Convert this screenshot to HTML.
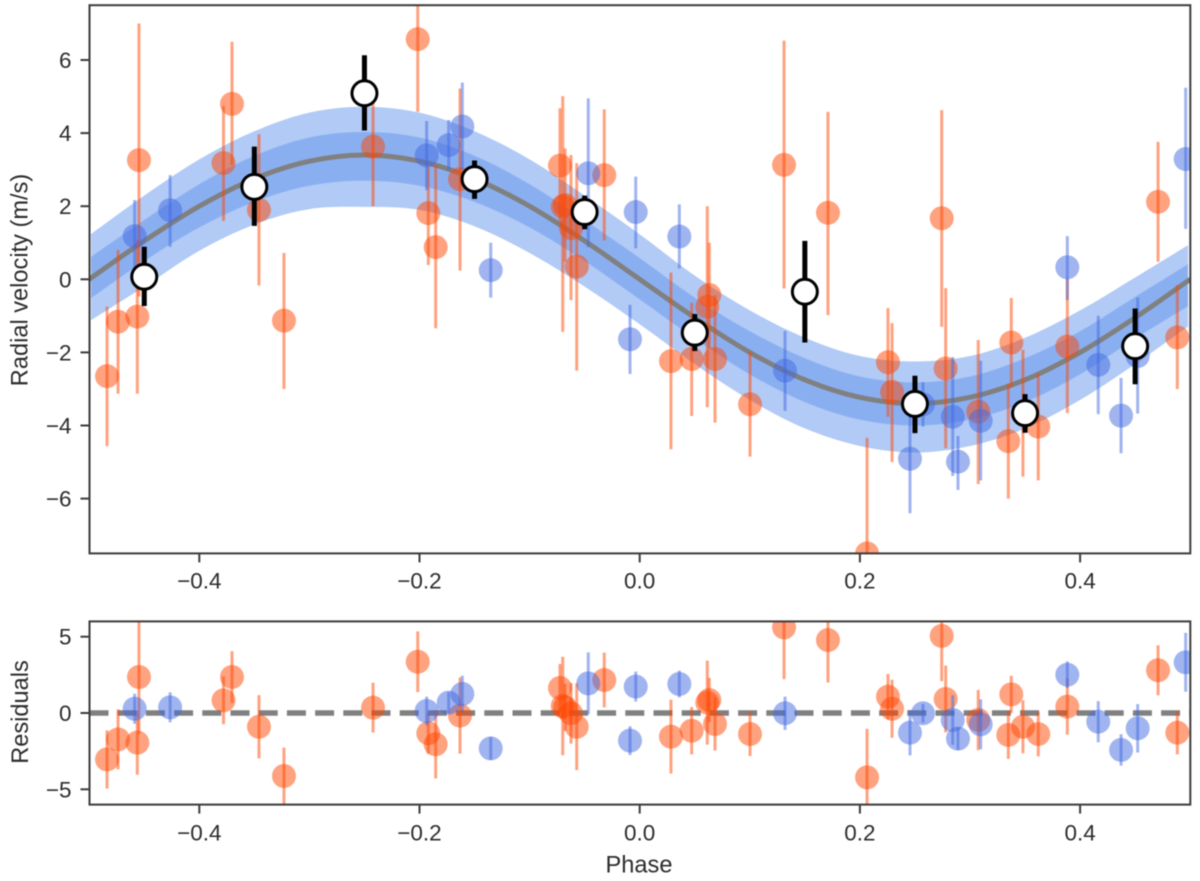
<!DOCTYPE html>
<html lang="en">
<head>
<meta charset="utf-8">
<title>Radial velocity phase plot</title>
<style>
html,body{margin:0;padding:0;background:#fff;width:1200px;height:881px;overflow:hidden}
svg{display:block;filter:blur(0.45px)}
text{font-family:"Liberation Sans",Arial,sans-serif;fill:#2c2c2c}
</style>
</head>
<body>
<svg id="fig" xmlns="http://www.w3.org/2000/svg" width="1200" height="881" viewBox="0 0 1200 881">
  <defs>
    <clipPath id="clip-main"><rect x="89.5" y="5.2" width="1100.8" height="548.2"/></clipPath>
    <clipPath id="clip-band"><rect x="91" y="5.2" width="1097" height="548.2"/></clipPath>
    <clipPath id="clip-res"><rect x="89.5" y="621.4" width="1100.8" height="183.2"/></clipPath>
  </defs>
  <g id="main-bands" clip-path="url(#clip-band)"></g>
  <g id="main-line" clip-path="url(#clip-main)"></g>
  <g id="main-points" clip-path="url(#clip-main)"></g>
  <g id="main-binned" clip-path="url(#clip-main)"></g>
  <line x1="89.5" x2="1190" y1="713" y2="713" stroke="#808080" stroke-width="5.5" stroke-dasharray="19 9.2"/>
  <g id="res-points" clip-path="url(#clip-res)"></g>
  <rect x="89.5" y="5.2" width="1100.8" height="548.2" fill="none" stroke="#3c3c3c" stroke-width="2"/>
  <rect x="89.5" y="621.4" width="1100.8" height="183.2" fill="none" stroke="#3c3c3c" stroke-width="2"/>
  <g id="ticks"></g>
  <text font-size="23.6" text-anchor="middle" transform="translate(27.5,280) rotate(-90)">Radial velocity (m/s)</text>
  <text font-size="23.6" text-anchor="middle" transform="translate(28,712) rotate(-90)">Residuals</text>
  <text font-size="23.6" text-anchor="middle" x="639" y="872.5">Phase</text>
</svg>
<script>
// Model curve
const modelPhase = [-0.5,-0.45,-0.4,-0.35,-0.3,-0.25,-0.2,-0.15,-0.1,-0.05,0,0.05,0.1,0.15,0.2,0.25,0.3,0.35,0.4,0.45,0.5];
const modelMean  = [0,1.05,2.0,2.75,3.23,3.4,3.23,2.75,2.0,1.05,0,-1.05,-2.0,-2.75,-3.23,-3.4,-3.23,-2.75,-2.0,-1.05,0];
const innerUpper = [0.58,1.62,2.6,3.38,3.88,4.03,3.88,3.38,2.6,1.62,0.58,-0.5,-1.42,-2.16,-2.66,-2.82,-2.66,-2.16,-1.42,-0.48,0.45];
const innerLower = [-0.55,0.5,1.42,2.12,2.56,2.7,2.56,2.12,1.42,0.5,-0.55,-1.62,-2.6,-3.36,-3.84,-4.0,-3.84,-3.36,-2.6,-1.62,-0.7];
const outerUpper = [1.2,2.29,3.28,4.05,4.56,4.72,4.56,4.05,3.28,2.29,1.23,0.1,-0.85,-1.6,-2.1,-2.25,-2.1,-1.6,-0.85,0.05,0.97];
const outerLower = [-1.15,-0.2,0.78,1.5,1.92,1.98,1.9,1.45,0.72,-0.2,-1.23,-2.32,-3.3,-4.08,-4.56,-4.74,-4.56,-4.08,-3.3,-2.32,-1.25];

// Orange data set
const orangePhase = [-0.4838,-0.4738,-0.4563,-0.4548,-0.378,-0.3703,-0.3458,-0.3231,-0.2422,-0.2016,-0.192,-0.1853,-0.1632,-0.0724,-0.0699,-0.0678,-0.0624,-0.0572,-0.0322,0.0284,0.0472,0.0614,0.0632,0.0684,0.1002,0.1311,0.171,0.2065,0.2255,0.2292,0.2743,0.2779,0.3075,0.3348,0.3375,0.3481,0.362,0.3884,0.4708,0.4883];
const orangeRv    = [-2.65,-1.16,-1.02,3.26,3.18,4.8,1.9,-1.13,3.63,6.57,1.81,0.88,2.74,3.11,1.99,2.03,1.4,0.35,2.85,-2.24,-2.18,-0.75,-0.43,-2.18,-3.42,3.13,1.82,-7.5,-2.27,-3.08,1.67,-2.44,-3.62,-4.43,-1.73,-3.67,-4.03,-1.84,2.12,-1.59];
const orangeLow   = [-4.56,-3.13,-3.13,-0.47,1.6,3.13,-0.17,-3.0,2.0,4.58,0.39,-1.34,0.24,1.54,-1.44,0.48,-0.57,-2.5,1.06,-4.65,-3.74,-3.5,-1.9,-3.92,-4.85,-0.25,-0.98,-10.7,-3.76,-5.0,-1.3,-4.62,-5.6,-6.0,-2.95,-5.4,-5.5,-3.66,0.48,-3.0];
const orangeHigh  = [-0.75,0.8,1.08,7.0,4.74,6.5,3.97,0.72,5.26,8.56,3.08,3.13,5.22,4.68,5.01,3.58,3.4,3.18,4.65,0.18,-0.64,2.0,1.0,-0.44,-1.98,6.53,4.58,-4.34,-0.79,-1.2,4.63,-0.24,-1.66,-2.86,-0.51,-1.93,-2.57,0.02,3.76,-0.16];
const orangeResidual = [-3.04,-1.73,-1.94,2.36,0.83,2.36,-0.9,-4.13,0.35,3.36,-1.33,-2.05,-0.17,1.64,0.46,0.37,-0.02,-0.9,2.16,-1.55,-1.16,0.68,0.85,-0.72,-1.38,5.61,4.78,-4.22,1.07,0.28,5.05,0.92,-0.46,-1.44,1.22,-0.9,-1.38,0.42,2.8,-1.29];

// Blue data set
const bluePhase = [-0.4587,-0.4265,-0.1935,-0.1735,-0.1611,-0.1353,-0.0467,-0.0088,-0.0036,0.036,0.132,0.2455,0.2573,0.2843,0.2891,0.3097,0.3884,0.4165,0.4372,0.4523,0.4959];
const blueRv    = [1.18,1.89,3.39,3.67,4.18,0.25,2.9,-1.64,1.84,1.17,-2.5,-4.91,-3.42,-3.76,-4.99,-3.87,0.33,-2.34,-3.73,-2.1,3.29];
const blueLow   = [0.2,0.89,2.44,2.98,2.99,-0.5,0.88,-2.59,0.85,0.3,-3.6,-6.4,-4.03,-5.38,-5.76,-5.5,-0.57,-3.69,-4.76,-3.67,1.38];
const blueHigh  = [2.17,2.85,4.33,4.36,5.38,1.0,4.95,-0.7,2.81,2.05,-1.41,-3.42,-2.81,-2.13,-4.29,-2.23,1.18,-1.0,-2.7,-0.5,5.24];
const blueResidual = [0.28,0.37,0.13,0.68,1.25,-2.32,1.94,-1.81,1.73,1.9,-0.02,-1.29,-0.02,-0.46,-1.68,-0.74,2.51,-0.57,-2.42,-1.0,3.32];

// Binned points
const binPhase = [-0.45,-0.35,-0.25,-0.15,-0.05,0.05,0.15,0.25,0.35,0.45];
const binRv    = [0.07,2.53,5.09,2.74,1.84,-1.46,-0.34,-3.41,-3.66,-1.83];
const binLow   = [-0.73,1.46,4.07,2.2,1.37,-1.96,-1.73,-4.21,-4.2,-2.87];
const binHigh  = [0.89,3.63,6.13,3.25,2.29,-0.95,1.05,-2.64,-3.14,-0.8];

// Tick labels
const xTicks = [-0.4,-0.2,0,0.2,0.4];
const yTicksMain = [-6,-4,-2,0,2,4,6];
const yTicksRes = [-5,0,5];

const NS = 'http://www.w3.org/2000/svg';
const xScale = p => 639.7 + 1101 * p;
const yMain = v => 279.3 - 36.55 * v;
const yRes = v => 713 - 15.26 * v;
const fmt = s => String(s).replace('-', '\u2212');

function mk(tag, parent, attrs) {
  const el = document.createElementNS(NS, tag);
  for (const k in attrs) el.setAttribute(k, attrs[k]);
  parent.appendChild(el);
  return el;
}

// Smooth path through sampled points (Catmull-Rom to Bezier)
function smooth(pts) {
  let d = 'M' + pts[0][0] + ' ' + pts[0][1];
  for (let i = 0; i < pts.length - 1; i++) {
    const a = pts[Math.max(i - 1, 0)], b = pts[i], c = pts[i + 1], e = pts[Math.min(i + 2, pts.length - 1)];
    d += 'C' + (b[0] + (c[0] - a[0]) / 6) + ' ' + (b[1] + (c[1] - a[1]) / 6) + ' ' +
         (c[0] - (e[0] - b[0]) / 6) + ' ' + (c[1] - (e[1] - b[1]) / 6) + ' ' + c[0] + ' ' + c[1];
  }
  return d;
}
function bandPath(up, lo) {
  const top = modelPhase.map((p, i) => [xScale(p), yMain(up[i])]);
  const bottom = modelPhase.map((p, i) => [xScale(p), yMain(lo[i])]).reverse();
  return smooth(top) + 'L' + smooth(bottom).slice(1) + 'Z';
}

const bands = document.getElementById('main-bands');
const outerBand = mk('path', bands, {d: bandPath(outerUpper, outerLower), fill: 'cornflowerblue', 'fill-opacity': 0.5});


const innerBand = mk('path', bands, {d: bandPath(innerUpper, innerLower), fill: 'cornflowerblue', 'fill-opacity': 0.5});



const modelLine = mk('path', document.getElementById('main-line'), {
  d: smooth(modelPhase.map((p, i) => [xScale(p), yMain(modelMean[i])])),
  fill: 'none', stroke: '#808080', 'stroke-width': 5
});



function drawSeries(parent, phase, center, low, high, color, yFn, label) {
  phase.forEach((p, i) => {
    const cx = xScale(p);
    const bar = mk('line', parent, {x1: cx, x2: cx, y1: yFn(low[i]), y2: yFn(high[i]), stroke: color, 'stroke-opacity': 0.5, 'stroke-width': 3});
    
    
    const dot = mk('circle', parent, {cx: cx, cy: yFn(center[i]), r: 12, fill: color, 'fill-opacity': 0.5});
    
    
  });
}

const mainPts = document.getElementById('main-points');
drawSeries(mainPts, orangePhase, orangeRv, orangeLow, orangeHigh, 'orangered', yMain, 'orange-rv');
drawSeries(mainPts, bluePhase, blueRv, blueLow, blueHigh, 'royalblue', yMain, 'blue-rv');

const resPts = document.getElementById('res-points');
const orangeResLow = orangeResidual.map((r, i) => r - (orangeHigh[i] - orangeLow[i]) / 2);
const orangeResHigh = orangeResidual.map((r, i) => r + (orangeHigh[i] - orangeLow[i]) / 2);
const blueResLow = blueResidual.map((r, i) => r - (blueHigh[i] - blueLow[i]) / 2);
const blueResHigh = blueResidual.map((r, i) => r + (blueHigh[i] - blueLow[i]) / 2);
drawSeries(resPts, orangePhase, orangeResidual, orangeResLow, orangeResHigh, 'orangered', yRes, 'orange-residual');
drawSeries(resPts, bluePhase, blueResidual, blueResLow, blueResHigh, 'royalblue', yRes, 'blue-residual');

const binned = document.getElementById('main-binned');
binPhase.forEach((p, i) => {
  const cx = xScale(p);
  const bar = mk('line', binned, {x1: cx, x2: cx, y1: yMain(binLow[i]), y2: yMain(binHigh[i]), stroke: '#000', 'stroke-width': 5});
  
  
  const dot = mk('circle', binned, {cx: cx, cy: yMain(binRv[i]), r: 12.5, fill: '#fff', stroke: '#000', 'stroke-width': 3});
  
  
});

const ticks = document.getElementById('ticks');
function xTickSet(yBase, labelY, prefix) {
  xTicks.forEach(v => {
    const x = xScale(v);
    const t = mk('line', ticks, {x1: x, x2: x, y1: yBase, y2: yBase + 9, stroke: '#3c3c3c', 'stroke-width': 2});
    
    
    const l = mk('text', ticks, {x: x, y: labelY, 'font-size': 22.5, 'text-anchor': 'middle'});
    
    
    l.textContent = fmt(v.toFixed(1));
  });
}
function yTickSet(values, yFn, prefix) {
  values.forEach(v => {
    const y = yFn(v);
    const t = mk('line', ticks, {x1: 80.5, x2: 89.5, y1: y, y2: y, stroke: '#3c3c3c', 'stroke-width': 2});
    
    
    const l = mk('text', ticks, {x: 71.5, y: y + 8, 'font-size': 22.5, 'text-anchor': 'end'});
    
    
    l.textContent = fmt(v);
  });
}
xTickSet(553.4, 588.5, 'main');
xTickSet(804.6, 840.5, 'residual');
yTickSet(yTicksMain, yMain, 'main');
yTickSet(yTicksRes, yRes, 'residual');
</script>
</body>
</html>
